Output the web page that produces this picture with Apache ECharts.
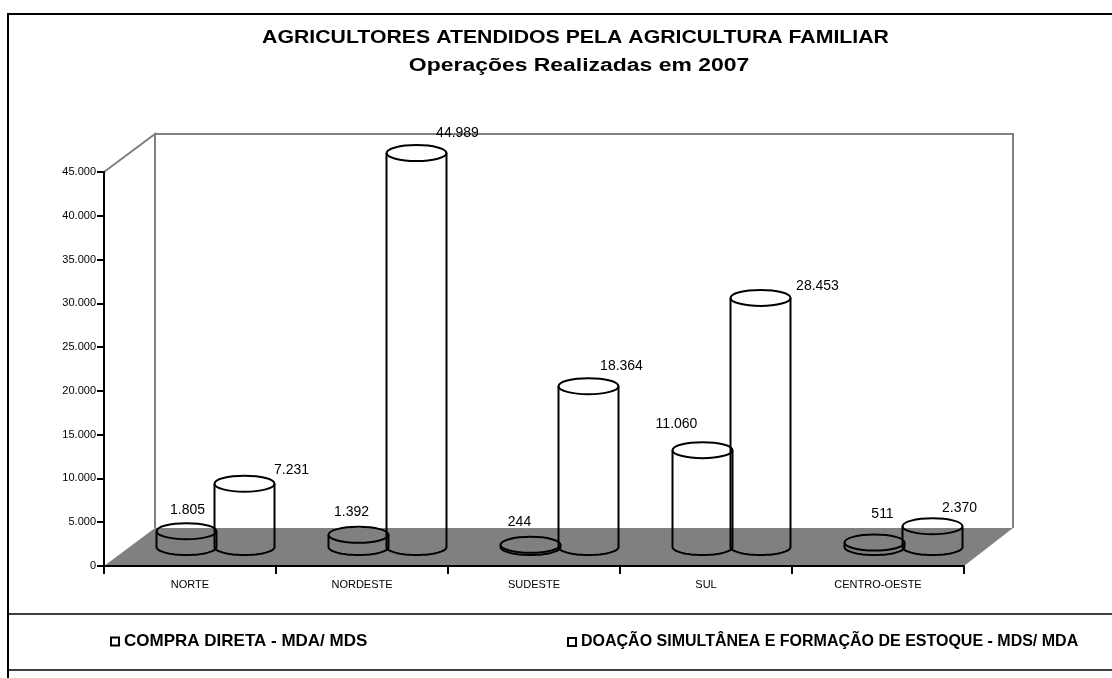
<!DOCTYPE html>
<html>
<head>
<meta charset="utf-8">
<style>html,body{margin:0;padding:0;background:#fff}#c{width:1112px;height:678px}</style>
<script src="https://cdn.jsdelivr.net/npm/echarts@6/dist/echarts.min.js"></script>
</head>
<body>
<div id="c"></div>
<script>
const categories = ['NORTE', 'NORDESTE', 'SUDESTE', 'SUL', 'CENTRO-OESTE'];
const compraDireta = [1805, 1392, 244, 11060, 511];
const doacaoSimultanea = [7231, 44989, 18364, 28453, 2370];
const seriesNames = ['COMPRA DIRETA - MDA/ MDS', 'DOAÇÃO SIMULTÂNEA E FORMAÇÃO DE ESTOQUE - MDS/ MDA'];
const titleLines = ['AGRICULTORES ATENDIDOS PELA AGRICULTURA FAMILIAR', 'Operações Realizadas em 2007'];
const yTicks = { min: 0, max: 45000, interval: 5000 };

// Oblique projection of the 3D box
const DEPTH_X = 51, DEPTH_Y = 38;
const FONT = '"Liberation Sans", Arial, sans-serif';
const fmt = v => String(v).replace(/\B(?=(\d{3})+$)/g, '.');

// Label nudges relative to each cylinder's top centre
const nudgeA = [[1,-21],[-7,-23],[-11,-23],[-26,-26],[8,-28]];
const nudgeB = [[47,-14],[41,-20],[33,-20],[57,-12],[27,-18]];

function cylinderRenderer(dodge, nudge) {
  return function (params, api) {
    const i = params.dataIndex;
    const v = api.value(1);
    const base = api.coord([api.value(0), 0]);
    const top = api.coord([api.value(0), v]);
    const cx = base[0] + DEPTH_X / 2 + dodge;
    const by = base[1] - DEPTH_Y / 2;
    const ty = top[1] - DEPTH_Y / 2;
    const rx = 30, ry = 8;
    const stroke = { stroke: '#000', lineWidth: 2, fill: null };
    // Side walls plus the front half of the base ellipse
    const outline = [[cx - rx, ty]];
    for (let k = 0; k <= 32; k++) {
      const t = Math.PI - (Math.PI * k) / 32;
      outline.push([cx + rx * Math.cos(t), by + ry * Math.sin(t)]);
    }
    outline.push([cx + rx, ty]);
    return {
      type: 'group',
      children: [
        { type: 'polyline', shape: { points: outline }, style: stroke },
        { type: 'ellipse', shape: { cx: cx, cy: ty, rx: rx, ry: ry }, style: stroke },
        { type: 'text', x: cx + nudge[i][0], y: ty + nudge[i][1], style: {
            text: fmt(v), fill: '#000', align: 'center', verticalAlign: 'middle',
            font: '14px ' + FONT } }
      ]
    };
  };
}

function renderBox(params, api) {
  const g = params.coordSys;
  const x0 = g.x, x1 = g.x + g.width, yB = g.y + g.height, yT = g.y;
  const dx = DEPTH_X, dy = DEPTH_Y;
  const wall = { stroke: '#808080', lineWidth: 2, fill: null };
  return {
    type: 'group', silent: true,
    children: [
      { type: 'polygon', shape: { points: [[x0,yB],[x0+dx,yB-dy],[x1+dx-2,yB-dy],[x1,yB]] }, style: { fill: '#808080' } },
      { type: 'polyline', shape: { points: [[x0,yT],[x0+dx,yT-dy],[x0+dx,yB-dy]] }, style: wall },
      { type: 'polyline', shape: { points: [[x0+dx,yT-dy],[x1+dx-2,yT-dy],[x1+dx-2,yB-dy]] }, style: wall }
    ]
  };
}

const chart = echarts.init(document.getElementById('c'), null, { renderer: 'canvas' });
const toData = arr => arr.map((v, i) => [categories[i], v]);
const legendBase = { itemWidth: 8, itemHeight: 8, icon: 'rect', padding: 0, itemGap: 5, selectedMode: false };
const legendText = size => ({ fontFamily: FONT, fontWeight: 'bold', fontSize: size, color: '#000' });
chart.setOption({
  animation: false,
  backgroundColor: '#fff',
  legend: [
    Object.assign({}, legendBase, { left: 110, top: 633, data: [seriesNames[0]], textStyle: legendText(17) }),
    Object.assign({}, legendBase, { left: 567, top: 634, data: [seriesNames[1]], textStyle: legendText(16) })
  ],
  grid: { left: 104, right: 148, top: 172, bottom: 112 },
  xAxis: {
    type: 'category', data: categories, boundaryGap: true,
    axisLine: { show: true, lineStyle: { color: '#000', width: 2 } },
    axisTick: { show: true, alignWithLabel: false, length: 8, lineStyle: { color: '#000', width: 2 } },
    axisLabel: { color: '#000', fontSize: 11, margin: 13, fontFamily: FONT },
    z: 5
  },
  yAxis: {
    type: 'value', min: yTicks.min, max: yTicks.max, interval: yTicks.interval,
    splitLine: { show: false },
    axisLine: { show: true, lineStyle: { color: '#000', width: 2 } },
    axisTick: { show: true, length: 7, lineStyle: { color: '#000', width: 2 } },
    axisLabel: { color: '#000', fontSize: 11, margin: 8, formatter: fmt, fontFamily: FONT },
    z: 5
  },
  graphic: [
    { type: 'polyline', silent: true, shape: { points: [[1112,14],[8,14],[8,678]] }, style: { stroke: '#000', lineWidth: 2, fill: null } },
    { type: 'line', silent: true, shape: { x1: 8, y1: 614, x2: 1112, y2: 614 }, style: { stroke: '#000', lineWidth: 1.5 } },
    { type: 'line', silent: true, shape: { x1: 8, y1: 670, x2: 1112, y2: 670 }, style: { stroke: '#000', lineWidth: 1.5 } },
    { type: 'text', silent: true, x: 575.5, y: 38, scaleX: 1.215, style: { text: titleLines[0], fill: '#000', align: 'center', verticalAlign: 'middle', font: 'bold 17.5px ' + FONT } },
    { type: 'text', silent: true, x: 579, y: 66, scaleX: 1.31, style: { text: titleLines[1], fill: '#000', align: 'center', verticalAlign: 'middle', font: 'bold 17.5px ' + FONT } }
  ],
  series: [
    { type: 'custom', name: 'box', coordinateSystem: 'cartesian2d', renderItem: renderBox, data: [[categories[0], 0]], clip: false, z: 1, silent: true },
    { type: 'custom', name: seriesNames[0], coordinateSystem: 'cartesian2d', renderItem: cylinderRenderer(-29, nudgeA),
      data: toData(compraDireta), encode: { x: 0, y: 1 }, clip: false, z: 2,
      itemStyle: { color: 'transparent', borderColor: '#000', borderWidth: 2 } },
    { type: 'custom', name: seriesNames[1], coordinateSystem: 'cartesian2d', renderItem: cylinderRenderer(29, nudgeB),
      data: toData(doacaoSimultanea), encode: { x: 0, y: 1 }, clip: false, z: 3,
      itemStyle: { color: 'transparent', borderColor: '#000', borderWidth: 2 } }
  ]
});
</script>
</body>
</html>
